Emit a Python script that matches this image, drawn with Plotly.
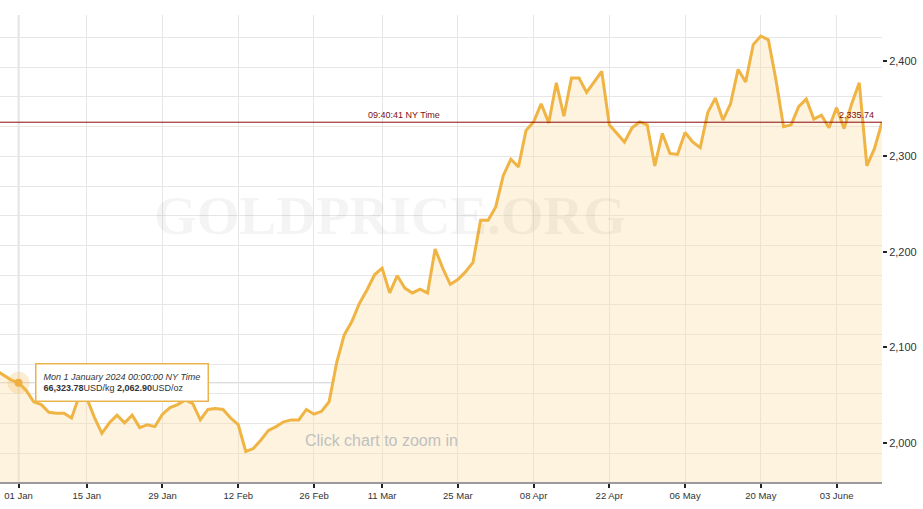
import plotly.graph_objects as go

# ---- data ----
PRICES = [2076, 2071, 2066, 2062.9, 2055, 2043, 2040, 2032, 2031, 2031,
          2026, 2049, 2047, 2027, 2010, 2021, 2029, 2021, 2029, 2016,
          2019, 2017, 2030, 2037, 2040, 2045, 2041, 2024, 2035, 2036,
          2035, 2026, 2019, 1991, 1994, 2003, 2013, 2017, 2022, 2024,
          2024, 2035, 2030, 2033, 2043, 2084, 2113, 2127, 2146, 2160,
          2176, 2183, 2157, 2175, 2162, 2157, 2161, 2157, 2203, 2183,
          2166, 2171, 2179, 2189, 2233, 2233, 2247, 2280, 2297, 2289,
          2327, 2336, 2355, 2335, 2377, 2342, 2382, 2382, 2367, 2378,
          2389, 2333, 2324, 2315, 2330, 2336, 2333, 2290, 2324, 2303,
          2302, 2325, 2315, 2309, 2346, 2361, 2338, 2355, 2391, 2378,
          2417, 2426, 2422, 2380, 2331, 2333, 2352, 2360, 2339, 2343,
          2330, 2351, 2329, 2355, 2377, 2290, 2308, 2335.74]
TICK_INDEX = [3, 12, 22, 32, 42, 51, 61, 71, 81, 91, 101, 111]
TICK_LABELS = ["01 Jan", "15 Jan", "29 Jan", "12 Feb", "26 Feb", "11 Mar",
               "25 Mar", "08 Apr", "22 Apr", "06 May", "20 May", "03 June"]
Y_TICKS = [2000, 2100, 2200, 2300, 2400]
CURRENT_PRICE = 2335.74
CURRENT_TIME = "09:40:41 NY Time"
TOOLTIP_INDEX = 3
TOOLTIP_DATE = "Mon 1 January 2024 00:00:00 NY Time"
TOOLTIP_KG = "66,323.78"
TOOLTIP_OZ = "2,062.90"

X_RANGE = [0.55, 117.0]
Y_RANGE = [1959, 2448]
GRID_STEP = 31.1

LINE = "#F0B445"
FONT = "Arial, Liberation Sans, sans-serif"

x = list(range(len(PRICES)))
tip_y = PRICES[TOOLTIP_INDEX]

# where the series first climbs back through the tooltip level (crosshair end)
cross_x = X_RANGE[1]
for i in range(TOOLTIP_INDEX + 1, len(PRICES)):
    if PRICES[i - 1] < tip_y <= PRICES[i]:
        cross_x = (i - 1) + (tip_y - PRICES[i - 1]) / (PRICES[i] - PRICES[i - 1])
        break

fig = go.Figure()
fig.add_trace(go.Scatter(
    x=x, y=PRICES, mode="lines",
    line=dict(color=LINE, width=3),
    fill="tozeroy", fillcolor="rgba(251,221,160,0.35)",
    hoverinfo="skip", showlegend=False))
# invisible trace so the secondary (grid) axis is drawn
fig.add_trace(go.Scatter(
    x=x, y=PRICES, yaxis="y2", mode="lines", line=dict(width=0),
    opacity=0, hoverinfo="skip", showlegend=False))
# tooltip marker (halo + dot)
fig.add_trace(go.Scatter(
    x=[TOOLTIP_INDEX], y=[tip_y], mode="markers",
    marker=dict(size=22, color="rgba(242,184,75,0.25)", line=dict(width=0)),
    hoverinfo="skip", showlegend=False))
fig.add_trace(go.Scatter(
    x=[TOOLTIP_INDEX], y=[tip_y], mode="markers",
    marker=dict(size=8, color="#EFAF3E", line=dict(width=0)),
    hoverinfo="skip", showlegend=False))

shapes = [
    # crosshair vertical
    dict(type="line", xref="x", yref="paper", x0=TOOLTIP_INDEX, x1=TOOLTIP_INDEX,
         y0=0, y1=1, line=dict(color="#c6c6c6", width=1.5), layer="below"),
    # crosshair horizontal
    dict(type="line", xref="x", yref="y", x0=X_RANGE[0], x1=cross_x,
         y0=tip_y, y1=tip_y, line=dict(color="#cfcfcf", width=1), layer="below"),
    # current price line
    dict(type="line", xref="paper", yref="y", x0=0, x1=1,
         y0=CURRENT_PRICE, y1=CURRENT_PRICE, line=dict(color="#8B0A0A", width=1)),
]

annotations = [
    dict(text="<b>GOLDPRICE.ORG</b>", xref="paper", yref="paper", x=0.4427, y=0.5717,
         showarrow=False, font=dict(family="Liberation Serif, Times New Roman, serif",
                                    size=55, color="rgba(0,0,0,0.045)")),
    dict(text="Click chart to zoom in", xref="paper", yref="paper", x=0.4326, y=0.0664,
         showarrow=False, font=dict(family=FONT, size=16, color="#c0c0c0")),
    dict(text=CURRENT_TIME, xref="paper", yref="y", x=0.458, y=CURRENT_PRICE,
         yanchor="bottom", showarrow=False, font=dict(family=FONT, size=9, color="#7a1010")),
    dict(text=f"{CURRENT_PRICE:,.2f}", xref="paper", yref="y", x=1, xshift=-6,
         xanchor="right", y=CURRENT_PRICE, yanchor="bottom", showarrow=False,
         font=dict(family=FONT, size=9, color="#7a1010")),
    dict(text=f"<i>{TOOLTIP_DATE}</i><br><b>{TOOLTIP_KG}</b>USD/kg <b>{TOOLTIP_OZ}</b>USD/oz",
         xref="x", yref="y", x=TOOLTIP_INDEX, y=tip_y, xanchor="left", yanchor="middle",
         xshift=16, showarrow=False, align="left",
         bgcolor="white", bordercolor="#E9B44C", borderwidth=1.5, borderpad=7,
         font=dict(family=FONT, size=9, color="#333333")),
]

fig.update_layout(
    width=923, height=509,
    margin=dict(l=0, r=41, t=15, b=27),
    paper_bgcolor="white", plot_bgcolor="white",
    hovermode=False, showlegend=False,
    shapes=shapes, annotations=annotations,
    xaxis=dict(range=X_RANGE, tickvals=TICK_INDEX, ticktext=TICK_LABELS,
               showgrid=True, gridcolor="#e6e6e6", gridwidth=1,
               ticks="outside", ticklen=4, tickwidth=2, tickcolor="#222",
               showline=True, linecolor="#9a9a9a", linewidth=2,
               zeroline=False, tickfont=dict(family=FONT, size=9.5, color="#333")),
    yaxis=dict(range=Y_RANGE, side="right", tickvals=Y_TICKS, tickformat=",",
               showgrid=False, ticks="outside", ticklen=4, tickwidth=2, tickcolor="#222",
               zeroline=False, showline=False,
               tickfont=dict(family=FONT, size=11, color="#333")),
    yaxis2=dict(range=Y_RANGE, overlaying="y", side="right", tick0=2300, dtick=GRID_STEP,
                showgrid=True, gridcolor="#e6e6e6", gridwidth=1, showticklabels=False,
                ticks="", zeroline=False, showline=False),
)

fig.write_html("out.html",
               config={"displayModeBar": False},
               post_script="document.body.style.margin='0';document.body.style.overflow='hidden';")
